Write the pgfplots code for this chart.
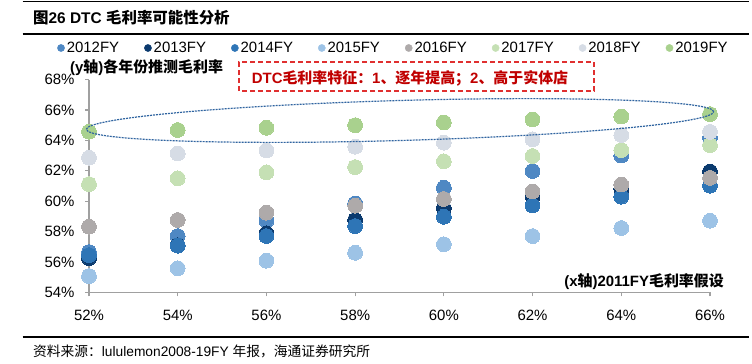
\documentclass[border=0pt]{standalone}
\usepackage{pgfplots}
\pgfplotsset{compat=1.18}
\usepackage{pgfplotstable}
\usepackage{fontspec}
\setmainfont{Liberation Sans}
\newfontfamily\cjk{Noto Sans CJK SC}
\definecolor{c2012}{HTML}{4F88C3}
\definecolor{c2013}{HTML}{0B3A6E}
\definecolor{c2014}{HTML}{2E75B6}
\definecolor{c2015}{HTML}{9DC3E6}
\definecolor{c2016}{HTML}{AEAAAA}
\definecolor{c2017}{HTML}{C5E0B4}
\definecolor{c2018}{HTML}{D6DCE5}
\definecolor{c2019}{HTML}{A9D18E}
\definecolor{axgray}{HTML}{A0A0A0}
\definecolor{boxred}{HTML}{E03030}
\definecolor{txtred}{HTML}{C00000}
\definecolor{ellblue}{HTML}{2F64A0}

\pgfplotstableread{
x y2012 y2013 y2014 y2015 y2016 y2017 y2018 y2019
52 56.65 56.25 56.45 55.07 58.32 61.12 62.86 64.57
54 57.70 57.10 57.07 55.58 58.76 61.50 63.14 64.68
56 58.71 57.88 57.70 56.08 59.24 61.90 63.34 64.83
58 59.85 58.76 58.36 56.60 59.70 62.24 63.58 65.00
60 60.88 59.53 58.97 57.16 60.14 62.62 63.85 65.18
62 61.98 60.29 59.72 57.70 60.64 62.97 64.07 65.38
64 63.00 60.80 60.29 58.23 61.09 63.36 64.35 65.57
66 64.17 61.95 61.02 58.71 61.53 63.69 64.56 65.73
}\data

\begin{document}
\begin{tikzpicture}[x=1bp,y=1bp]
\path[use as bounding box] (0,0) rectangle (752,363);
\begin{axis}[
  at={(89bp,70.7bp)}, anchor=south west,
  scale only axis, width=621bp, height=212.7bp,
  xmin=52, xmax=66, ymin=54, ymax=68,
  axis x line*=bottom, axis y line*=left,
  axis line style={axgray, line width=1.5bp},
  tick style={axgray, line width=1.2bp},
  major tick length=4bp, tick align=outside,
  xtick={52,54,...,66},
  xticklabels={52\%,54\%,56\%,58\%,60\%,62\%,64\%,66\%},
  ytick={54,56,...,68},
  yticklabels={54\%,56\%,58\%,60\%,62\%,64\%,66\%,68\%},
  ticklabel style={font=\fontsize{15}{18}\selectfont, black},
  xticklabel style={yshift=-10bp},
  yticklabel style={xshift=-7bp},
  clip=false,
  legend columns=8,
  legend style={draw=none, fill=none, at={(-0.0515,1.1486)}, anchor=west,
    font=\fontsize{15}{18}\selectfont, inner sep=0pt,
    /tikz/every even column/.append style={column sep=23bp}},
  legend image code/.code={\fill[#1] (4bp,0bp) circle (3.6bp);},
  every axis plot/.append style={only marks, mark=*, mark size=7.4bp, mark options={line width=0pt}},
]
\addplot[color=c2012] table[x=x,y=y2012]{\data};
\addlegendentry{2012FY}
\addplot[color=c2013] table[x=x,y=y2013]{\data};
\addlegendentry{2013FY}
\addplot[color=c2014] table[x=x,y=y2014]{\data};
\addlegendentry{2014FY}
\addplot[color=c2015] table[x=x,y=y2015]{\data};
\addlegendentry{2015FY}
\addplot[color=c2016] table[x=x,y=y2016]{\data};
\addlegendentry{2016FY}
\addplot[color=c2017] table[x=x,y=y2017]{\data};
\addlegendentry{2017FY}
\addplot[color=c2018] table[x=x,y=y2018]{\data};
\addlegendentry{2018FY}
\addplot[color=c2019] table[x=x,y=y2019]{\data};
\addlegendentry{2019FY}
\end{axis}
% ellipse annotation
\draw[ellblue, line width=1.2bp, dash pattern=on 2bp off 1bp, shift={(400,242.5)}, rotate=1.62] (0,0) ellipse [x radius=313.8bp, y radius=20bp];
% rules
\draw[line width=1.3bp] (22.7,361.5) -- (749,361.5);
\draw[line width=1.3bp] (22.7,329) -- (749,329);
\draw[line width=1.3bp] (22.7,26) -- (749,26);
% title
\node[anchor=west, inner sep=0pt] at (33,345) {\fontsize{15.5}{18}\selectfont\bfseries{\cjk 图}26 DTC {\cjk 毛利率可能性分析}};
% y label
\node[anchor=west, inner sep=0pt] at (70,295) {\fontsize{15}{18}\selectfont\bfseries (y{\cjk 轴}){\cjk 各年份推测毛利率}};
% red box
\draw[boxred, line width=1.3bp, dash pattern=on 5bp off 3bp] (239,272) rectangle (594,301);
\node[txtred, inner sep=0pt] at (410,285) {\fontsize{15}{18}\selectfont\bfseries DTC{\cjk 毛利率特征：}1{\cjk 、逐年提高；}2{\cjk 、高于实体店}};
% x label
\node[anchor=east, inner sep=0pt] at (724,81) {\fontsize{15}{18}\selectfont\bfseries (x{\cjk 轴})2011FY{\cjk 毛利率假设}};
% source
\node[anchor=west, inner sep=0pt] at (33,12) {\fontsize{13.8}{16}\selectfont{\cjk 资料来源：}lululemon2008-19FY {\cjk 年报，海通证券研究所}};
\end{tikzpicture}
\end{document}
